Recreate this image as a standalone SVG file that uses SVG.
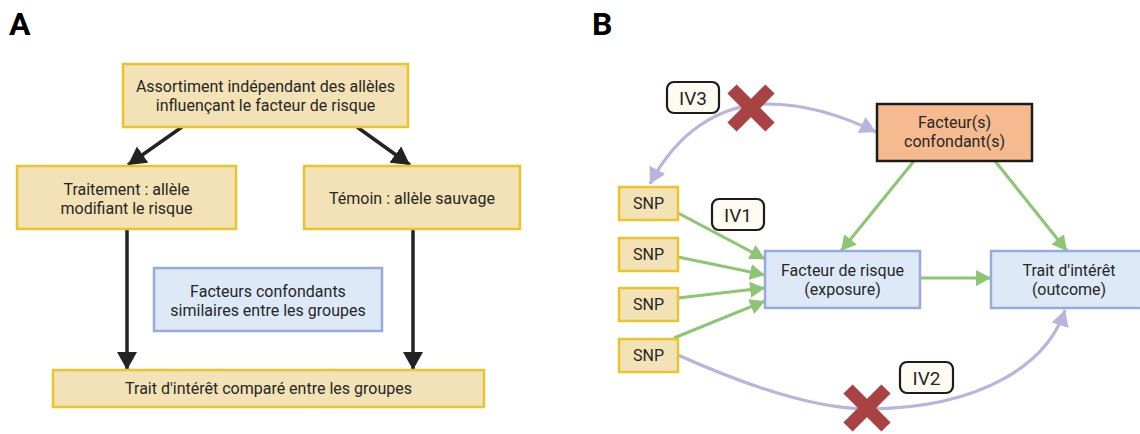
<svg xmlns="http://www.w3.org/2000/svg" width="1140" height="434" viewBox="0 0 1140 434">
  <style>
    text { font-family: Roboto, "Liberation Sans", Arial, sans-serif; fill: #262626; }
    .t { font-size: 16px; text-anchor: middle; }
    .panel { font-size: 32px; font-weight: bold; fill: #000; }
    .iv { font-size: 19px; text-anchor: middle; }
    .yel { fill: #f2e2b6; stroke: #e9c42c; stroke-width: 2.5; }
    .blu { fill: #dde9f7; stroke: #97abdb; stroke-width: 2.5; }
    .org { fill: #f5bb8e; stroke: #1c1c1c; stroke-width: 2.5; }
    .lab { fill: #fffbf1; stroke: #1c1c1c; stroke-width: 2.2; }
    .blk { stroke: #232323; stroke-width: 3.5; fill: none; marker-end: url(#ah-blk); }
    .grn { stroke: #8dc572; stroke-width: 3; fill: none; marker-end: url(#ah-grn); }
    .pur { stroke: #b9b4dd; stroke-width: 3.2; fill: none; }
    .cross { stroke: #a94343; stroke-width: 13; }
  </style>
  <defs>
    <marker id="ah-blk" markerUnits="userSpaceOnUse" markerWidth="19" markerHeight="20" refX="18" refY="10" orient="auto">
      <path d="M0,0 L18,10 L0,20 z" fill="#232323"/>
    </marker>
    <marker id="ah-grn" markerUnits="userSpaceOnUse" markerWidth="16" markerHeight="16" refX="15" refY="8" orient="auto">
      <path d="M0,0 L15,8 L0,16 z" fill="#8dc572"/>
    </marker>
    <marker id="ah-pur" markerUnits="userSpaceOnUse" markerWidth="18" markerHeight="18" refX="16" refY="9" orient="auto-start-reverse">
      <path d="M0,0 L16,9 L0,18 z" fill="#b9b4dd"/>
    </marker>
    <g id="x-mark">
      <line class="cross" x1="-19" y1="-19" x2="19" y2="19"/>
      <line class="cross" x1="19" y1="-19" x2="-19" y2="19"/>
    </g>
  </defs>

  <!-- Panel A -->
  <text class="panel" x="9" y="35">A</text>

  <g id="a-connectors">
    <line class="blk" x1="182" y1="127" x2="128" y2="165"/>
    <line class="blk" x1="357" y1="127" x2="410" y2="165"/>
    <line class="blk" x1="127" y1="230" x2="127" y2="370"/>
    <line class="blk" x1="413" y1="230" x2="413" y2="370"/>
  </g>

  <g id="a-assortiment">
    <rect class="yel" x="123" y="64" width="285" height="63"/>
    <text class="t" x="265.5" y="92">Assortiment indépendant des allèles</text>
    <text class="t" x="265.5" y="111">influençant le facteur de risque</text>
  </g>
  <g id="a-traitement">
    <rect class="yel" x="17" y="166" width="219" height="63"/>
    <text class="t" x="126.5" y="195">Traitement : allèle</text>
    <text class="t" x="126.5" y="214">modifiant le risque</text>
  </g>
  <g id="a-temoin">
    <rect class="yel" x="304" y="166" width="216" height="63"/>
    <text class="t" x="412" y="204">Témoin : allèle sauvage</text>
  </g>
  <g id="a-confondants">
    <rect class="blu" x="154" y="268" width="228" height="63"/>
    <text class="t" x="268" y="297">Facteurs confondants</text>
    <text class="t" x="268" y="316">similaires entre les groupes</text>
  </g>
  <g id="a-trait">
    <rect class="yel" x="53" y="370" width="431" height="37"/>
    <text class="t" x="268.5" y="394">Trait d'intérêt comparé entre les groupes</text>
  </g>

  <!-- Panel B -->
  <text class="panel" x="592" y="35">B</text>

  <g id="b-connectors">
    <line class="grn" x1="678" y1="213" x2="765" y2="259"/>
    <line class="grn" x1="678" y1="257" x2="765" y2="275"/>
    <line class="grn" x1="678" y1="298" x2="765" y2="288"/>
    <line class="grn" x1="674" y1="338" x2="765" y2="301"/>
    <line class="grn" x1="920" y1="278" x2="991" y2="278"/>
    <line class="grn" x1="914" y1="161" x2="841" y2="251"/>
    <line class="grn" x1="995" y1="161" x2="1067" y2="251"/>
    <path class="pur" d="M650,184 C676,134 718,104 768,104 C808,104 845,117 876,132" marker-start="url(#ah-pur)" marker-end="url(#ah-pur)"/>
    <path class="pur" d="M678,355 C765,394 825,409 868,409 C985,408 1048,362 1065,310" marker-end="url(#ah-pur)"/>
  </g>

  <g id="b-confondant">
    <rect class="org" x="877" y="104" width="155" height="57"/>
    <text class="t" x="954.5" y="128">Facteur(s)</text>
    <text class="t" x="954.5" y="147">confondant(s)</text>
  </g>
  <g id="b-exposure">
    <rect class="blu" x="765" y="251" width="155" height="57"/>
    <text class="t" x="842.5" y="276">Facteur de risque</text>
    <text class="t" x="842.5" y="295">(exposure)</text>
  </g>
  <g id="b-outcome">
    <rect class="blu" x="991" y="251" width="156" height="57"/>
    <text class="t" x="1069" y="276">Trait d'intérêt</text>
    <text class="t" x="1069" y="295">(outcome)</text>
  </g>
  <g id="b-snp1">
    <rect class="yel" x="619" y="187" width="59" height="33"/>
    <text class="t" x="648.5" y="209">SNP</text>
  </g>
  <g id="b-snp2">
    <rect class="yel" x="619" y="238" width="59" height="33"/>
    <text class="t" x="648.5" y="260">SNP</text>
  </g>
  <g id="b-snp3">
    <rect class="yel" x="619" y="288" width="59" height="33"/>
    <text class="t" x="648.5" y="310">SNP</text>
  </g>
  <g id="b-snp4">
    <rect class="yel" x="619" y="339" width="59" height="33"/>
    <text class="t" x="648.5" y="361">SNP</text>
  </g>

  <g id="b-iv3">
    <rect class="lab" x="667" y="82" width="52" height="31" rx="7"/>
    <text class="iv" x="693" y="104.5">IV3</text>
  </g>
  <g id="b-iv1">
    <rect class="lab" x="712" y="199" width="52" height="31" rx="7"/>
    <text class="iv" x="738" y="221.5">IV1</text>
  </g>
  <g id="b-iv2">
    <rect class="lab" x="900" y="362" width="53" height="31" rx="7"/>
    <text class="iv" x="926.5" y="384.5">IV2</text>
  </g>

  <g id="b-cross-iv3"><use href="#x-mark" x="751" y="108"/></g>
  <g id="b-cross-iv2"><use href="#x-mark" x="867" y="408"/></g>
</svg>
